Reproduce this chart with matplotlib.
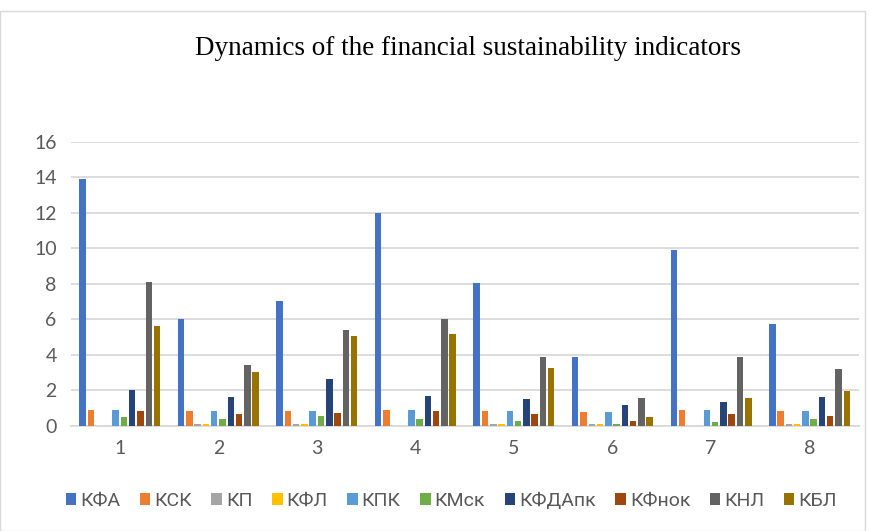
import numpy as np
import matplotlib.pyplot as plt
from matplotlib.patches import Rectangle

groups = ['1', '2', '3', '4', '5', '6', '7', '8']
series = ['КФА', 'КСК', 'КП', 'КФЛ', 'КПК', 'КМск', 'КФДАпк', 'КФнок', 'КНЛ', 'КБЛ']

kfa = [13.9, 6.0, 7.05, 12.0, 8.05, 3.9, 9.9, 5.75]
ksk = [0.9, 0.84, 0.84, 0.9, 0.84, 0.76, 0.9, 0.84]
kp = [0.0, 0.1, 0.1, 0.0, 0.1, 0.13, 0.0, 0.1]
kfl = [0.0, 0.1, 0.1, 0.0, 0.1, 0.13, 0.0, 0.1]
kpk = [0.9, 0.83, 0.83, 0.9, 0.84, 0.76, 0.9, 0.83]
kmsk = [0.49, 0.37, 0.54, 0.36, 0.3, 0.1, 0.2, 0.37]
kfdapk = [2.02, 1.62, 2.62, 1.68, 1.5, 1.17, 1.37, 1.62]
kfnok = [0.83, 0.67, 0.75, 0.83, 0.67, 0.3, 0.65, 0.58]
knl = [8.1, 3.42, 5.4, 6.02, 3.88, 1.57, 3.88, 3.22]
kbl = [5.6, 3.03, 5.08, 5.2, 3.28, 0.5, 1.57, 1.98]

values = [kfa, ksk, kp, kfl, kpk, kmsk, kfdapk, kfnok, knl, kbl]
colors = ['#4472C4', '#ED7D31', '#A5A5A5', '#FFC000', '#5B9BD5',
          '#70AD47', '#264478', '#9E480E', '#636363', '#997300']

tick_font = ['Lato', 'DejaVu Sans']
legend_font = ['Roboto', 'DejaVu Sans']

fig = plt.figure(figsize=(8.71, 5.31), dpi=100)
ax = fig.add_axes([0.081, 0.198, 0.905, 0.535])

x = np.arange(len(groups))
slot = 0.084
width = 0.066
for i, (name, vals) in enumerate(zip(series, values)):
    offs = (i - (len(series) - 1) / 2) * slot
    ax.bar(x + offs, vals, width, color=colors[i], label=name, zorder=3)

ax.set_xlim(-0.5, len(groups) - 0.5)
ax.set_ylim(0, 16)
ax.set_yticks(np.arange(0, 17, 2))
ax.set_xticks(x)
ax.set_xticklabels(groups)
ax.yaxis.grid(True, color='#d9d9d9', linewidth=1.3, zorder=0)
for s in ['top', 'right', 'left']:
    ax.spines[s].set_visible(False)
ax.spines['bottom'].set_color('#d9d9d9')
ax.spines['bottom'].set_linewidth(1.3)
ax.tick_params(axis='both', length=0, labelsize=14, colors='#595959', pad=10)
for lab in ax.get_xticklabels() + ax.get_yticklabels():
    lab.set_family(tick_font)

fig.text(0.537, 0.908, 'Dynamics of the financial sustainability indicators',
         ha='center', va='center', fontsize=19.5, family='Liberation Serif')

leg = fig.legend(loc='center', bbox_to_anchor=(0.518, 0.057), ncol=10, frameon=False,
                 prop={'family': legend_font, 'size': 14},
                 handlelength=0.55, handleheight=0.55, handletextpad=0.2, columnspacing=1.0)
for t in leg.get_texts():
    t.set_color('#595959')

fig.patches.append(Rectangle((0.0, 0.0), 0.993, 0.98, transform=fig.transFigure,
                             fill=False, edgecolor='#d9d9d9', linewidth=1))

fig.savefig('out.png', dpi=100)
